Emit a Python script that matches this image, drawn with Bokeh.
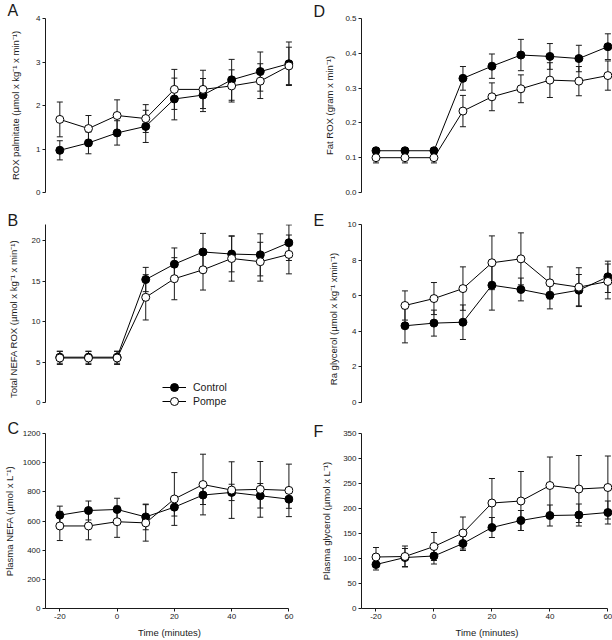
from bokeh.plotting import figure
from bokeh.layouts import gridplot
from bokeh.models import (ColumnDataSource, Whisker, TeeHead, FixedTicker, Title,
                          Legend, LegendItem, Range1d, NumeralTickFormatter)
from bokeh.embed import file_html
from bokeh.resources import INLINE

# ---------------- data ----------------
time = [-20, -10, 0, 10, 20, 30, 40, 50, 60]
time_e = [-10, 0, 10, 20, 30, 40, 50, 60]
x_ticks = [-20, 0, 20, 40, 60]
x_tick_labels = ["-20", "0", "20", "40", "60"]

a_ctrl = [0.97, 1.14, 1.37, 1.52, 2.15, 2.24, 2.59, 2.78, 2.96]
a_ctrl_se = [0.22, 0.25, 0.28, 0.37, 0.48, 0.38, 0.47, 0.45, 0.50]
a_pompe = [1.68, 1.47, 1.77, 1.70, 2.37, 2.37, 2.45, 2.56, 2.91]
a_pompe_se = [0.40, 0.30, 0.36, 0.32, 0.46, 0.44, 0.37, 0.40, 0.43]

b_ctrl = [5.6, 5.6, 5.6, 15.2, 17.1, 18.6, 18.35, 18.25, 19.75]
b_ctrl_se = [0.75, 0.75, 0.75, 1.5, 2.0, 2.3, 2.2, 2.6, 2.2]
b_pompe = [5.5, 5.5, 5.5, 13.0, 15.3, 16.4, 17.8, 17.4, 18.3]
b_pompe_se = [0.8, 0.8, 0.8, 2.8, 2.6, 2.5, 2.8, 2.4, 2.4]

c_ctrl = [640, 672, 679, 628, 695, 778, 796, 773, 750]
c_ctrl_se = [62, 65, 77, 88, 61, 65, 56, 84, 63]
c_pompe = [566, 566, 595, 587, 751, 850, 812, 817, 810]
c_pompe_se = [100, 95, 107, 125, 181, 208, 194, 191, 180]

d_ctrl = [0.12, 0.12, 0.12, 0.328, 0.363, 0.395, 0.391, 0.385, 0.419]
d_ctrl_se = [0.008, 0.008, 0.008, 0.034, 0.035, 0.045, 0.037, 0.038, 0.037]
d_pompe = [0.10, 0.10, 0.10, 0.234, 0.275, 0.298, 0.323, 0.32, 0.336]
d_pompe_se = [0.015, 0.015, 0.015, 0.045, 0.040, 0.040, 0.050, 0.042, 0.042]

e_ctrl = [4.31, 4.46, 4.51, 6.59, 6.35, 6.03, 6.31, 7.06]
e_ctrl_se = [0.96, 0.73, 0.97, 1.4, 0.64, 0.77, 0.88, 0.88]
e_pompe = [5.45, 5.84, 6.40, 7.85, 8.07, 6.72, 6.48, 6.80]
e_pompe_se = [0.82, 0.90, 1.22, 1.51, 1.46, 0.90, 1.09, 0.98]

f_ctrl = [88, 102, 105, 130, 162, 176, 186, 187, 192]
f_ctrl_se = [11, 18, 16, 14, 20, 20, 21, 22, 23]
f_pompe = [103, 104, 124, 151, 211, 215, 246, 239, 242]
f_pompe_se = [19, 21, 28, 32, 49, 59, 57, 67, 63]

series_names = ["Control", "Pompe"]

FONT = "Liberation Sans"
INK = "#1a1a1a"

# layout (pixels)
X_END = 61.6
COLS = {0: (300, 40, 7), 1: (312, 61, 0)}   # width, border left, border right
# height, border top, border bottom, axis length, pad below zero
ROWS = {0: (208, 15, 16, 177, 0), 1: (209, 16, 4, 178, 11), 2: (223, 16, 30, 177, 0)}


def make_panel(x, ctrl, ctrl_se, pompe, pompe_se, y_end, y_ticks, ylabel, letter,
               col, row, title_standoff, letter_dx, letter_standoff, fmt=None, legend=False):
    w, mbl, mbr = COLS[col]
    h, mbt, mbb, axis_px, pad = ROWS[row]
    show_x = row == 2
    y_start = -y_end * pad / axis_px
    p = figure(width=w, height=h, output_backend="svg", toolbar_location=None,
               x_range=Range1d(-25, X_END), y_range=Range1d(y_start, y_end),
               x_axis_location="below" if show_x else None,
               min_border_left=mbl, min_border_right=mbr,
               min_border_top=mbt, min_border_bottom=mbb)
    p.outline_line_color = None
    p.grid.visible = False
    p.background_fill_color = "white"
    p.border_fill_color = "white"

    p.title = Title(text=letter, align="left", offset=letter_dx, standoff=letter_standoff,
                    text_font=FONT, text_font_size="16px", text_font_style="normal",
                    text_color=INK)

    axes = list(p.yaxis) + (list(p.xaxis) if show_x else [])
    for ax in axes:
        ax.axis_line_color = INK
        ax.axis_line_width = 1
        ax.major_tick_line_color = INK
        ax.major_tick_out = 3
        ax.major_tick_in = 0
        ax.minor_tick_line_color = None
        ax.major_label_text_font = FONT
        ax.major_label_text_font_size = "8px"
        ax.major_label_text_color = INK
        ax.major_label_standoff = 2
        ax.axis_label_text_font = FONT
        ax.axis_label_text_font_size = "9.5px"
        ax.axis_label_text_font_style = "normal"
        ax.axis_label_text_color = INK

    yax = p.yaxis[0]
    yax.ticker = FixedTicker(ticks=y_ticks)
    yax.bounds = (0, y_end)
    yax.axis_label = ylabel
    yax.axis_label_standoff = title_standoff
    if fmt:
        yax.formatter = NumeralTickFormatter(format=fmt)

    if show_x:
        xax = p.xaxis[0]
        xax.ticker = FixedTicker(ticks=x_ticks)
        xax.major_label_overrides = {t: s for t, s in zip(x_ticks, x_tick_labels)}
        xax.bounds = (-25, 60)
        xax.axis_label = "Time (minutes)"
        xax.axis_label_standoff = 5

    renderers = []
    for vals, se, fill in ((ctrl, ctrl_se, "black"), (pompe, pompe_se, "white")):
        src = ColumnDataSource(dict(x=x, y=vals,
                                    lo=[v - e for v, e in zip(vals, se)],
                                    hi=[v + e for v, e in zip(vals, se)]))
        wh = Whisker(source=src, base="x", upper="hi", lower="lo",
                     line_color=INK, line_width=1,
                     upper_head=TeeHead(size=6, line_color=INK, line_width=1),
                     lower_head=TeeHead(size=6, line_color=INK, line_width=1))
        p.add_layout(wh)
        ln = p.line("x", "y", source=src, line_color="black", line_width=1)
        renderers.append((src, ln, fill))
    items = []
    for (src, ln, fill), name in zip(renderers, series_names):
        sc = p.scatter("x", "y", source=src, size=8, fill_color=fill,
                       line_color="black", line_width=1)
        items.append(LegendItem(label=name, renderers=[ln, sc]))

    if legend:
        for item, ly in zip(items, (16, 2)):
            lg = Legend(items=[item], location=(117, ly), border_line_color=None,
                        background_fill_alpha=0, padding=0, margin=0, spacing=0,
                        glyph_height=20, glyph_width=24, label_standoff=7,
                        label_height=14, label_text_font=FONT,
                        label_text_font_size="10.5px", label_text_color=INK)
            p.add_layout(lg)
    return p


pa = make_panel(time, a_ctrl, a_ctrl_se, a_pompe, a_pompe_se, 4, [0, 1, 2, 3, 4],
                "ROX palmitate (µmol x kg⁻¹ x min⁻¹)", "A", 0, 0, 12, -38, -1)
pb = make_panel(time, b_ctrl, b_ctrl_se, b_pompe, b_pompe_se, 22, [0, 5, 10, 15, 20],
                "Total NEFA ROX (µmol x kg⁻¹ x min⁻¹)", "B", 0, 1, 10, -38, -8, legend=True)
pc = make_panel(time, c_ctrl, c_ctrl_se, c_pompe, c_pompe_se, 1200,
                [0, 200, 400, 600, 800, 1000, 1200],
                "Plasma NEFA (µmol x L⁻¹)", "C", 0, 2, 5, -38, -7)
pd = make_panel(time, d_ctrl, d_ctrl_se, d_pompe, d_pompe_se, 0.5,
                [0.0, 0.1, 0.2, 0.3, 0.4, 0.5],
                "Fat ROX (gram x min⁻¹)", "D", 1, 0, 7, -48, -3, fmt="0.0")
pe = make_panel(time_e, e_ctrl, e_ctrl_se, e_pompe, e_pompe_se, 10, [0, 2, 4, 6, 8, 10],
                "Ra glycerol (µmol x kg⁻¹ xmin⁻¹)", "E", 1, 1, 6, -48, -9)
pf = make_panel(time, f_ctrl, f_ctrl_se, f_pompe, f_pompe_se, 350,
                [0, 50, 100, 150, 200, 250, 300, 350],
                "Plasma glycerol (µmol x L⁻¹)", "F", 1, 2, 8, -48, -12)

grid = gridplot([[pa, pd], [pb, pe], [pc, pf]], toolbar_location=None)

open("out.html", "w").write(file_html(grid, INLINE))
